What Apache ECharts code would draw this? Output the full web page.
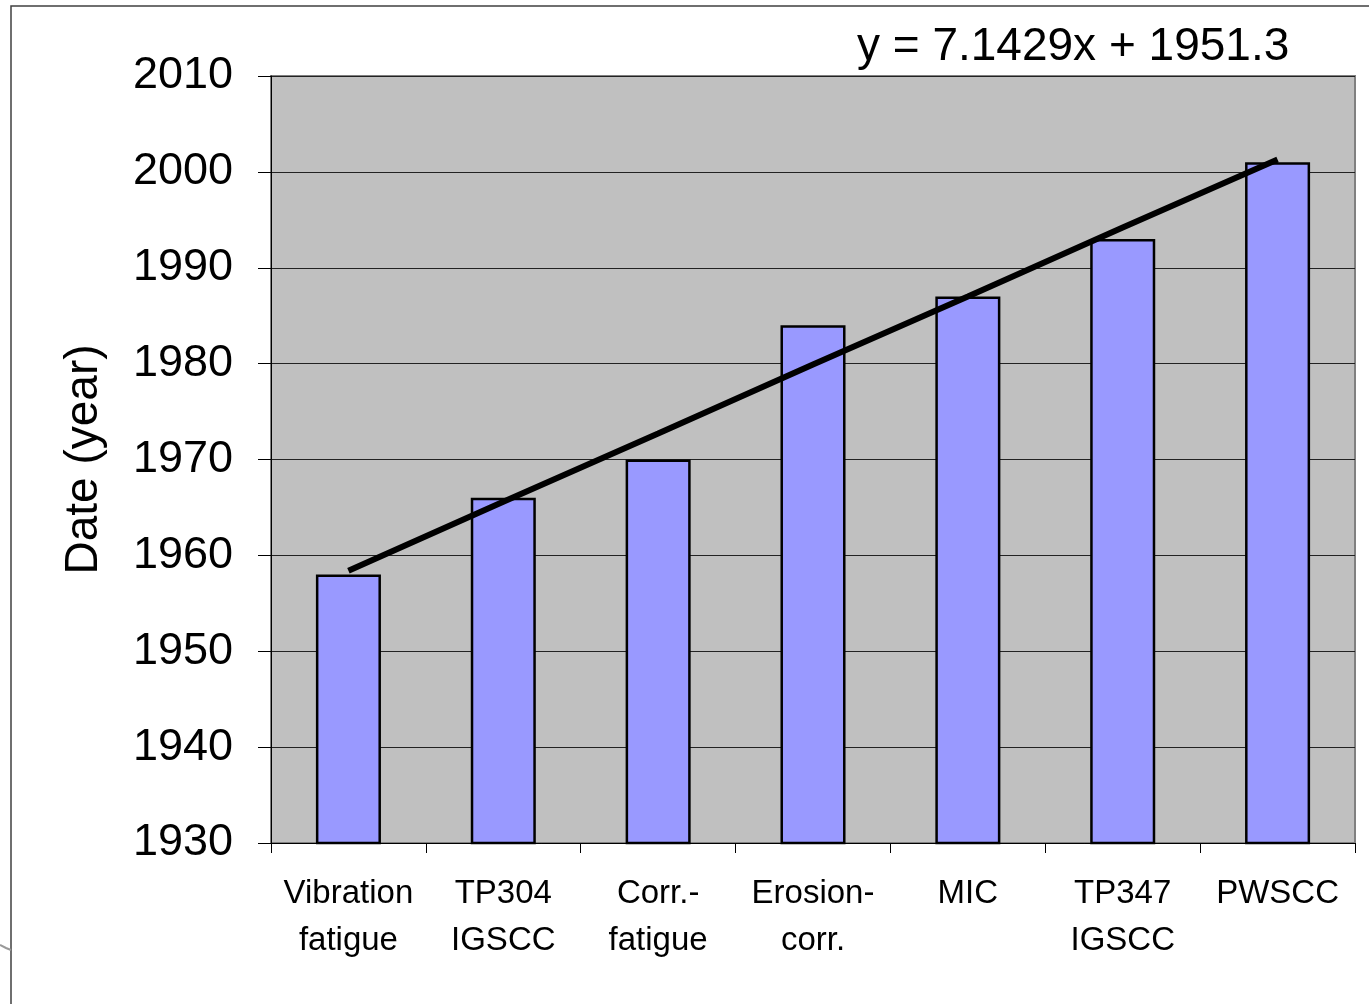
<!DOCTYPE html>
<html>
<head>
<meta charset="utf-8">
<script src="https://cdn.jsdelivr.net/npm/echarts@6/dist/echarts.min.js"></script>
<style>html,body{margin:0;padding:0;background:#fff}#c{width:1369px;height:1004px}</style>
</head>
<body>
<div id="c"></div>
<script>
var categories = ['Vibration\nfatigue', 'TP304\nIGSCC', 'Corr.-\nfatigue', 'Erosion-\ncorr.', 'MIC', 'TP347\nIGSCC', 'PWSCC'];
var years = [1958, 1966, 1970, 1984, 1987, 1993, 2001];
var trend = [1958.4, 1965.6, 1972.7, 1979.9, 1987.0, 1994.2, 2001.3];
var yTicks = [1930, 1940, 1950, 1960, 1970, 1980, 1990, 2000, 2010];
var equation = 'y = 7.1429x + 1951.3';

var font = '"Liberation Sans", Arial, sans-serif';
var chart = echarts.init(document.getElementById('c'));
chart.setOption({
  animation: false,
  backgroundColor: '#ffffff',
  graphic: [
    { type: 'rect', shape: { x: 11, y: 6, width: 1500, height: 1200 }, style: { fill: 'none', stroke: '#404040', lineWidth: 1.5 }, z: -1 },
    { type: 'text', left: 857, top: 24, style: { text: equation, font: '46px ' + font, fill: '#000' } },
    { type: 'polyline', shape: { points: [[0, 945], [6, 948], [11, 950]] }, style: { stroke: '#999', lineWidth: 2, fill: 'none' } }
  ],
  grid: { left: 271, top: 76, right: 14, bottom: 161, show: true, backgroundColor: '#C0C0C0', borderColor: '#808080', borderWidth: 2 },
  xAxis: {
    type: 'category', data: categories, boundaryGap: true,
    axisLine: { lineStyle: { color: '#000', width: 1 } },
    axisTick: { show: true, length: 10, alignWithLabel: false, lineStyle: { color: '#000' } },
    axisLabel: { color: '#000', fontSize: 33, fontFamily: font, lineHeight: 47, margin: 27, interval: 0 }
  },
  yAxis: {
    type: 'value', min: 1930, max: 2010, interval: 10,
    name: 'Date (year)', nameLocation: 'middle', nameGap: 164, nameRotate: 90,
    nameTextStyle: { color: '#000', fontSize: 46, fontFamily: font },
    axisLine: { show: true, lineStyle: { color: '#000', width: 1 } },
    axisTick: { show: true, length: 13, lineStyle: { color: '#000' } },
    axisLabel: { color: '#000', fontSize: 45, fontFamily: font, margin: 38, padding: [10, 0, 0, 0],
      formatter: function (v) { return yTicks.indexOf(v) >= 0 ? String(v) : ''; } },
    splitLine: { show: true, lineStyle: { color: '#222', width: 1 } }
  },
  series: [
    { type: 'bar', data: years, barWidth: '42%',
      itemStyle: { color: '#9999FF', borderColor: '#000', borderWidth: 2.5 } },
    { type: 'line', data: trend, symbol: 'none', z: 5,
      lineStyle: { color: '#000', width: 6 } }
  ]
});
</script>
</body>
</html>
